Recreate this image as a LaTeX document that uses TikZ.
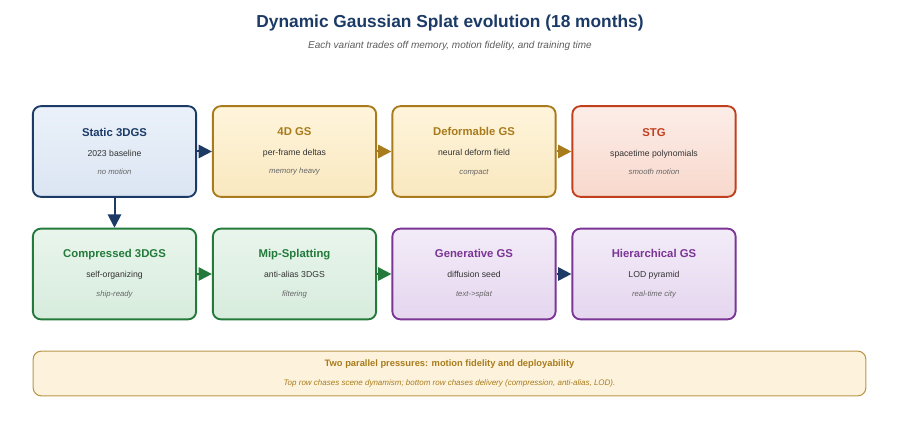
\documentclass[tikz,border=0pt]{standalone}
\usepackage{fontspec}
\setmainfont{Liberation Sans}
\usetikzlibrary{positioning,arrows.meta}

\begin{document}
\begin{tikzpicture}[x=0.75pt,y=-0.75pt,
    stage/.style={draw, rounded corners=6pt, line width=1.4pt, minimum width=122.5pt,
        minimum height=68pt, align=center, inner sep=0pt},
    blue box/.style={stage, draw=tab_navy, top color=fill_blue_a, bottom color=fill_blue_b},
    gold box/.style={stage, draw=tab_gold, top color=fill_gold_a, bottom color=fill_gold_b},
    red box/.style={stage, draw=tab_red, top color=fill_red_a, bottom color=fill_red_b},
    green box/.style={stage, draw=tab_green, top color=fill_green_a, bottom color=fill_green_b},
    purple box/.style={stage, draw=tab_purple, top color=fill_purple_a, bottom color=fill_purple_b},
    evolve/.style={-{Triangle[length=10pt,width=10pt]}, line width=1.5pt}]
    \definecolor{tab_navy}{HTML}{1b3a66}
    \definecolor{tab_gold}{HTML}{a87b1c}
    \definecolor{tab_red}{HTML}{c0401e}
    \definecolor{tab_green}{HTML}{237a3b}
    \definecolor{tab_purple}{HTML}{7b3595}
    \definecolor{tab_text}{HTML}{333333}
    \definecolor{fill_blue_a}{HTML}{eaf1fa}
    \definecolor{fill_blue_b}{HTML}{dbe5f2}
    \definecolor{fill_gold_a}{HTML}{fff5dc}
    \definecolor{fill_gold_b}{HTML}{f9e8bf}
    \definecolor{fill_red_a}{HTML}{fcede8}
    \definecolor{fill_red_b}{HTML}{f8d8cc}
    \definecolor{fill_green_a}{HTML}{e9f5ec}
    \definecolor{fill_green_b}{HTML}{d7ecdd}
    \definecolor{fill_purple_a}{HTML}{f3ecf8}
    \definecolor{fill_purple_b}{HTML}{e5d6ef}
    \definecolor{fill_note}{HTML}{fdf3dc}
    \useasboundingbox (0,0) rectangle (900,442);

    \node[font=\bfseries\fontsize{13}{15}\selectfont, text=tab_navy] (title) at (450,23) {Dynamic Gaussian Splat evolution (18 months)};
    \node[font=\itshape\fontsize{7.5}{9}\selectfont, text=tab_text!80] (subtitle) at (450,46) {Each variant trades off memory, motion fidelity, and training time};

    % top row: chasing motion
    \node[blue box] (static) at (114.5,151.5) {\textcolor{tab_navy}{\bfseries\fontsize{8.5}{10}\selectfont Static 3DGS}\\[3pt]
        \textcolor{tab_text}{\fontsize{6.5}{8}\selectfont 2023 baseline}\\[2pt]\textcolor{tab_text!75}{\itshape\fontsize{5.8}{7}\selectfont no motion}};
    \node[gold box] (fourd) at (294.5,151.5) {\textcolor{tab_gold}{\bfseries\fontsize{8.5}{10}\selectfont 4D GS}\\[3pt]
        \textcolor{tab_text}{\fontsize{6.5}{8}\selectfont per-frame deltas}\\[2pt]\textcolor{tab_text!75}{\itshape\fontsize{5.8}{7}\selectfont memory heavy}};
    \node[gold box] (deform) at (474,151.5) {\textcolor{tab_gold}{\bfseries\fontsize{8.5}{10}\selectfont Deformable GS}\\[3pt]
        \textcolor{tab_text}{\fontsize{6.5}{8}\selectfont neural deform field}\\[2pt]\textcolor{tab_text!75}{\itshape\fontsize{5.8}{7}\selectfont compact}};
    \node[red box] (stg) at (654,151.5) {\textcolor{tab_red}{\bfseries\fontsize{8.5}{10}\selectfont STG}\\[3pt]
        \textcolor{tab_text}{\fontsize{6.5}{8}\selectfont spacetime polynomials}\\[2pt]\textcolor{tab_text!75}{\itshape\fontsize{5.8}{7}\selectfont smooth motion}};

    % bottom row: chasing delivery
    \node[green box] (compress) at (114.5,274) {\textcolor{tab_green}{\bfseries\fontsize{8.5}{10}\selectfont Compressed 3DGS}\\[3pt]
        \textcolor{tab_text}{\fontsize{6.5}{8}\selectfont self-organizing}\\[2pt]\textcolor{tab_text!75}{\itshape\fontsize{5.8}{7}\selectfont ship-ready}};
    \node[green box] (mip) at (294.5,274) {\textcolor{tab_green}{\bfseries\fontsize{8.5}{10}\selectfont Mip-Splatting}\\[3pt]
        \textcolor{tab_text}{\fontsize{6.5}{8}\selectfont anti-alias 3DGS}\\[2pt]\textcolor{tab_text!75}{\itshape\fontsize{5.8}{7}\selectfont filtering}};
    \node[purple box] (gener) at (474,274) {\textcolor{tab_purple}{\bfseries\fontsize{8.5}{10}\selectfont Generative GS}\\[3pt]
        \textcolor{tab_text}{\fontsize{6.5}{8}\selectfont diffusion seed}\\[2pt]\textcolor{tab_text!75}{\itshape\fontsize{5.8}{7}\selectfont text->splat}};
    \node[purple box] (hier) at (654,274) {\textcolor{tab_purple}{\bfseries\fontsize{8.5}{10}\selectfont Hierarchical GS}\\[3pt]
        \textcolor{tab_text}{\fontsize{6.5}{8}\selectfont LOD pyramid}\\[2pt]\textcolor{tab_text!75}{\itshape\fontsize{5.8}{7}\selectfont real-time city}};

    \draw[evolve, tab_navy] (static) -- (fourd);
    \draw[evolve, tab_gold] (fourd) -- (deform);
    \draw[evolve, tab_gold] (deform) -- (stg);
    \draw[evolve, tab_navy] (static) -- (compress);
    \draw[evolve, tab_green] (compress) -- (mip);
    \draw[evolve, tab_green] (mip) -- (gener);
    \draw[evolve, tab_navy] (gener) -- (hier);

    \node[draw=tab_gold!80, line width=0.8pt, rounded corners=6pt, fill=fill_note,
        minimum width=624.5pt, minimum height=33.5pt, align=center] (note) at (449.5,373.5)
        {\textcolor{tab_gold}{\bfseries\fontsize{7}{8}\selectfont Two parallel pressures: motion fidelity and deployability}\\[2pt]
        \textcolor{tab_gold}{\itshape\fontsize{6}{7}\selectfont Top row chases scene dynamism; bottom row chases delivery (compression, anti-alias, LOD).}};
\end{tikzpicture}
\end{document}
